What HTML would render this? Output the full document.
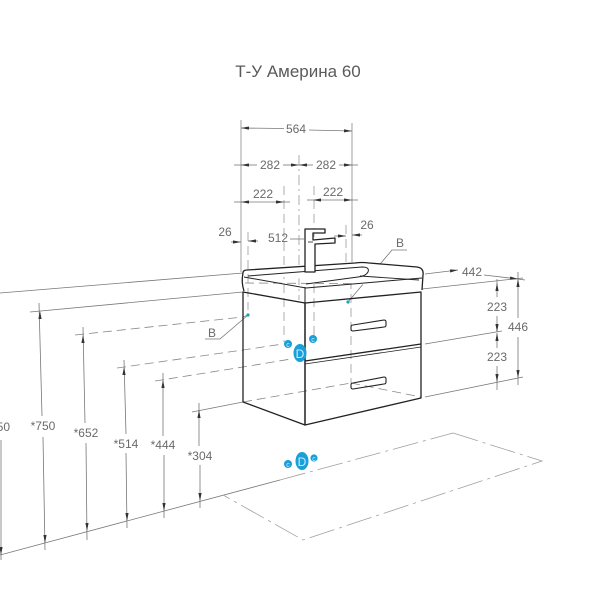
<!DOCTYPE html>
<html><head><meta charset="utf-8"><style>
html,body{margin:0;padding:0;background:#fff;}
svg{display:block;}
text{font-family:"Liberation Sans","DejaVu Sans",sans-serif;fill:#6a6a6a;}
</style></head><body>
<svg width="600" height="600" viewBox="0 0 600 600" xmlns="http://www.w3.org/2000/svg">
<defs>
<marker id="a" viewBox="0 0 10 4" refX="10" refY="2" markerWidth="8" markerHeight="3.2" markerUnits="userSpaceOnUse" orient="auto-start-reverse"><path d="M0,0 L10,2 L0,4z" fill="#333"/></marker>
</defs>
<rect width="600" height="600" fill="#fff"/>
<text x="298" y="77" font-size="17" text-anchor="middle" style="fill:#5a5a5a">Т-У Америна 60</text>

<!-- top extension lines -->
<g stroke="#888" stroke-width="0.8" fill="none">
<line x1="241" y1="120" x2="241" y2="272"/>
<line x1="352" y1="123" x2="352" y2="262"/>
</g>
<g stroke="#999" stroke-width="0.8" fill="none" stroke-dasharray="10 4 2 4">
<line x1="299" y1="155" x2="299" y2="300"/>
</g>
<g stroke="#999" stroke-width="0.8" fill="none" stroke-dasharray="9 5">
<line x1="284" y1="186" x2="284" y2="342"/>
<line x1="314" y1="186" x2="314" y2="336"/>
<line x1="248" y1="232" x2="248" y2="310"/>
<line x1="346" y1="225" x2="346" y2="262"/>
<line x1="351" y1="266" x2="351" y2="383"/>
</g>

<!-- top dims -->
<g stroke="#777" stroke-width="0.8" fill="none">
<line x1="284" y1="128.5" x2="241" y2="128" marker-end="url(#a)"/>
<line x1="309" y1="130" x2="352" y2="131" marker-end="url(#a)"/>
<line x1="257" y1="165" x2="241" y2="165" marker-end="url(#a)"/>
<line x1="234" y1="165" x2="241" y2="165"/>
<line x1="283" y1="165" x2="299" y2="165" marker-end="url(#a)"/>
<line x1="313" y1="165" x2="299" y2="165" marker-end="url(#a)"/>
<line x1="339" y1="165" x2="352" y2="165" marker-end="url(#a)"/>
<line x1="352" y1="165" x2="358" y2="165"/>
<line x1="241" y1="202" x2="284" y2="202" marker-start="url(#a)" marker-end="url(#a)"/>
<line x1="234" y1="202" x2="241" y2="202"/>
<line x1="284" y1="202" x2="290" y2="202"/>
<line x1="313" y1="200" x2="352" y2="200" marker-start="url(#a)" marker-end="url(#a)"/>
<line x1="307" y1="200" x2="313" y2="200"/>
<line x1="352" y1="200" x2="358" y2="200"/>
<line x1="231" y1="242" x2="241" y2="242" marker-end="url(#a)"/>
<line x1="258" y1="241" x2="248" y2="241" marker-end="url(#a)"/>
<line x1="290" y1="239" x2="304" y2="239"/>
<line x1="334" y1="236" x2="346" y2="236" marker-end="url(#a)"/>
<line x1="362" y1="235" x2="352" y2="235" marker-end="url(#a)"/>
</g>
<g font-size="12" text-anchor="middle">
<text x="296" y="133">564</text>
<text x="270" y="169">282</text>
<text x="326" y="169">282</text>
<text x="263" y="198">222</text>
<text x="333" y="196">222</text>
<text x="225" y="236">26</text>
<text x="278" y="242">512</text>
<text x="367" y="229">26</text>
</g>

<!-- left extension lines -->
<g stroke="#777" stroke-width="0.8" fill="none">
<line x1="0" y1="293" x2="243" y2="273"/>
<line x1="30" y1="312" x2="243" y2="292"/>
<line x1="192" y1="412" x2="243" y2="402"/>
<line x1="0" y1="555" x2="280" y2="480"/>
</g>
<g stroke="#888" stroke-width="0.8" fill="none" stroke-dasharray="9 5">
<polyline points="75,335 243,317 248,315"/>
<polyline points="117,368 243,350 283,344"/>
<polyline points="155,381 243,367 291,359"/>
<line x1="243" y1="402" x2="351" y2="383"/>
<line x1="351" y1="383" x2="421" y2="397"/>
<line x1="245" y1="283" x2="421" y2="284"/>
</g>
<!-- floor -->
<g stroke="#a0a0a0" stroke-width="0.8" fill="none" stroke-dasharray="26 5 3 5">
<line x1="280" y1="480" x2="453" y2="433"/>
<polyline points="453,433 542,461 303,540 223,495"/>
</g>

<!-- left vertical dims -->
<g stroke="#777" stroke-width="0.8" fill="none">
<line x1="39" y1="303" x2="42" y2="416"/>
<line x1="43" y1="437" x2="45" y2="550"/>
<line x1="83" y1="327" x2="85" y2="423"/>
<line x1="86" y1="443" x2="87" y2="540"/>
<line x1="124" y1="360" x2="126" y2="434"/>
<line x1="126" y1="453" x2="127" y2="528"/>
<line x1="163" y1="373" x2="163" y2="436"/>
<line x1="164" y1="455" x2="164" y2="518"/>
<line x1="199" y1="403" x2="199" y2="446"/>
<line x1="200" y1="465" x2="200" y2="508"/>
<line x1="1" y1="440" x2="1" y2="560"/>
</g>
<g fill="#333">
<polygon points="40,311 38.4,319 41.6,319"/>
<polygon points="83,335 81.4,343 84.6,343"/>
<polygon points="124,367 122.4,375 125.6,375"/>
<polygon points="163,380 161.4,388 164.6,388"/>
<polygon points="199,410 197.4,418 200.6,418"/>
<polygon points="45,543 43.4,535 46.6,535"/>
<polygon points="87,531 85.4,523 88.6,523"/>
<polygon points="127,521 125.4,513 128.6,513"/>
<polygon points="164,511 162.4,503 165.6,503"/>
<polygon points="200,501 198.4,493 201.6,493"/>
<polygon points="1,555 -0.6,547 2.6,547"/>
</g>
<g font-size="12" text-anchor="middle">
<text x="10" y="431" text-anchor="end">*1050</text>
<text x="43" y="430">*750</text>
<text x="86" y="437">*652</text>
<text x="126" y="448">*514</text>
<text x="163" y="449">*444</text>
<text x="200" y="460">*304</text>
</g>

<!-- right dims -->
<g stroke="#777" stroke-width="0.8" fill="none">
<line x1="422" y1="289" x2="523" y2="278"/>
<line x1="425" y1="344" x2="502" y2="331"/>
<line x1="425" y1="397" x2="523" y2="377"/>
<line x1="425" y1="274" x2="458" y2="270" marker-end="url(#a)"/>
<line x1="484" y1="275" x2="518" y2="279" marker-end="url(#a)"/>
<line x1="518" y1="279" x2="525" y2="280"/>
<line x1="497" y1="297" x2="497" y2="283" marker-end="url(#a)"/>
<line x1="497" y1="279" x2="497" y2="283"/>
<line x1="497" y1="316" x2="497" y2="332" marker-end="url(#a)"/>
<line x1="497" y1="348" x2="497" y2="333" marker-end="url(#a)"/>
<line x1="497" y1="366" x2="497" y2="382" marker-end="url(#a)"/>
<line x1="497" y1="382" x2="497" y2="390"/>
<line x1="518" y1="318" x2="518" y2="279" marker-end="url(#a)"/>
<line x1="518" y1="272" x2="518" y2="279"/>
<line x1="518" y1="337" x2="518" y2="378" marker-end="url(#a)"/>
<line x1="518" y1="378" x2="518" y2="385"/>
</g>
<g font-size="12" text-anchor="middle">
<text x="472" y="276">442</text>
<text x="497" y="311">223</text>
<text x="497" y="361">223</text>
<text x="518" y="331">446</text>
</g>

<!-- B labels -->
<g stroke="#777" stroke-width="0.8" fill="none">
<polyline points="205,339 220,339 248,315"/>
<polyline points="407,250 392,250 348,302"/>
</g>
<g font-size="12" text-anchor="middle">
<text x="212" y="337">B</text>
<text x="400" y="247">B</text>
</g>

<!-- cabinet -->
<g stroke="#222" stroke-width="1.3" fill="none" stroke-linejoin="round">
<polygon points="243,292 305,303 305,425 243,402"/>
<polygon points="305,303 421,292 421,398 305,425"/>
<line x1="305" y1="361" x2="421" y2="344"/>
<line x1="305" y1="364" x2="421" y2="347" stroke-width="0.8"/>
<path d="M353,325 L384,320 Q386,320 386,322 L386,325 Q386,327 384,327 L353,331 Q351,331 351,329 L351,327 Q351,325 353,325 Z" stroke-width="1.1"/>
<path d="M353,383 L384,377 Q386,377 386,379 L386,382 Q386,384 384,384 L353,389 Q351,389 351,387 L351,385 Q351,383 353,383 Z" stroke-width="1.1"/>
<!-- basin -->
<path d="M243,273 Q243,270 247,270 L355,263 Q362,262 369,263 L417,267 Q424,268 423,275 L422,290" fill="#fff"/>
<path d="M243,273 Q241,282 244,291"/>
<path d="M244,277 L306,288 L422,278" stroke-width="1"/>
<path d="M248,276 L362,267 Q370,267 368,272 Q366,276 358,277 L306,284" stroke-width="1"/>
<line x1="360" y1="276" x2="419" y2="280" stroke-width="0.9"/>
<!-- faucet -->
<path d="M305,229 L325,229 L325,233 L313,233 L313,240 L335,238 L335,243 L315,244 L315,272 L305,272 Z" fill="#fff"/>
<line x1="308" y1="242" x2="313" y2="242" stroke-width="0.8"/>
</g>
<line x1="305" y1="303" x2="305" y2="287" stroke="#222" stroke-width="1"/>

<!-- teal dots -->
<circle cx="248" cy="315" r="1.6" fill="#1aa3b8"/>
<circle cx="348" cy="302" r="1.6" fill="#1aa3b8"/>

<!-- blue markers -->
<g fill="#1a9fd8">
<circle cx="288" cy="344" r="4"/>
<circle cx="313" cy="339" r="4"/>
<ellipse cx="300" cy="353" rx="6.5" ry="9"/>
<circle cx="288" cy="464" r="4"/>
<circle cx="314" cy="458" r="3.6"/>
<ellipse cx="302" cy="461" rx="6.5" ry="9"/>
</g>
<g text-anchor="middle">
<text x="288" y="347" font-size="7" style="fill:#cdeeff">c</text>
<text x="313" y="342" font-size="7" style="fill:#cdeeff">c</text>
<text x="300" y="358" font-size="12" style="fill:#cdeeff">D</text>
<text x="288" y="467" font-size="7" style="fill:#cdeeff">c</text>
<text x="314" y="461" font-size="7" style="fill:#cdeeff">c</text>
<text x="302" y="466" font-size="12" style="fill:#cdeeff">D</text>
</g>
</svg>
</body></html>
